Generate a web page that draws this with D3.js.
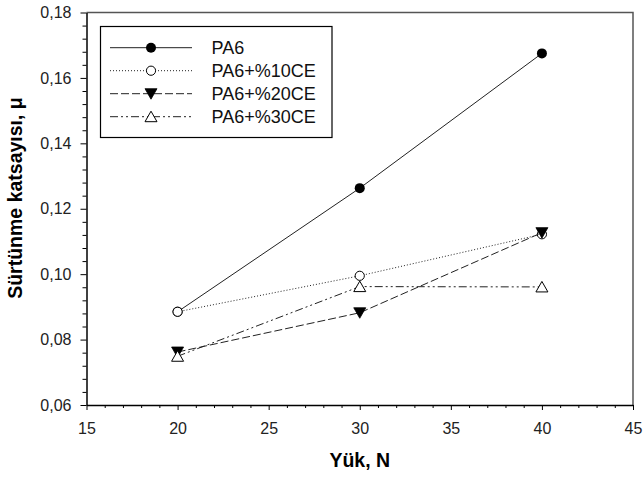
<!DOCTYPE html>
<html>
<head>
<meta charset="utf-8">
<script src="https://cdn.jsdelivr.net/npm/d3@7"></script>
<style>
  html, body { margin: 0; padding: 0; background: #fff; }
  svg { display: block; font-family: "Liberation Sans", Arial, sans-serif; }
</style>
</head>
<body>
<svg id="chart" width="643" height="477"></svg>
<script>
// data
var loads = [20, 30, 40];
var seriesNames = ["PA6", "PA6+%10CE", "PA6+%20CE", "PA6+%30CE"];
var pa6 = [0.0885, 0.1263, 0.1675];
var pa6ce10 = [0.0885, 0.0995, 0.1122];
var pa6ce20 = [0.0762, 0.0882, 0.1127];
var pa6ce30 = [0.0749, 0.0962, 0.0961];
var xTicks = [15, 20, 25, 30, 35, 40, 45];
var yTicks = [0.06, 0.08, 0.10, 0.12, 0.14, 0.16, 0.18];

var allSeries = [pa6, pa6ce10, pa6ce20, pa6ce30];
var dashes = [null, "1,2", "8,3", "8,3,2,3,2,3"];
var shapes = ["dot", "circle", "down", "up"];

var svg = d3.select("#chart");
var plotLeft = 86.5, plotRight = 633, plotTop = 12.5, plotBottom = 405;

var x = d3.scaleLinear().domain([15, 45]).range([plotLeft, plotRight]);
var y = d3.scaleLinear().domain([0.06, 0.18]).range([plotBottom, plotTop]);

var fmt = function(d) { return d3.format(".2f")(d).replace(".", ","); };

// minor ticks first
var xMinor = d3.range(15, 45.01, 1).filter(function(d) { return d % 5 !== 0; });
var yMinor = d3.range(0.06, 0.1801, 0.004).filter(function(d) {
  return Math.abs(Math.round(d * 50) - d * 50) > 0.01;
});

svg.append("g")
  .attr("transform", "translate(0," + plotBottom + ")")
  .call(d3.axisBottom(x).tickValues(xMinor).tickSize(3).tickFormat(""))
  .call(function(g) { g.select(".domain").remove(); });

svg.append("g")
  .attr("transform", "translate(" + plotLeft + ",0)")
  .call(d3.axisLeft(y).tickValues(yMinor).tickSize(4).tickFormat(""))
  .call(function(g) { g.select(".domain").remove(); });

// top and right border (gray)
svg.append("path")
  .attr("d", "M" + plotLeft + "," + plotTop + "H" + plotRight + "V" + plotBottom)
  .attr("fill", "none")
  .attr("stroke", "#555")
  .attr("stroke-width", 1.5);

// major axes
var xAxis = svg.append("g")
  .attr("transform", "translate(0," + plotBottom + ")")
  .call(d3.axisBottom(x).tickValues(xTicks).tickSize(5).tickSizeOuter(0).tickPadding(9));

var yAxis = svg.append("g")
  .attr("transform", "translate(" + plotLeft + ",0)")
  .call(d3.axisLeft(y).tickValues(yTicks).tickSize(6).tickSizeOuter(0).tickPadding(9).tickFormat(fmt));

[xAxis, yAxis].forEach(function(a) {
  a.select(".domain").attr("stroke", "#000").attr("stroke-width", 1.5);
  a.selectAll(".tick line").attr("stroke", "#000");
  a.selectAll("text").attr("font-size", 16).attr("fill", "#222")
    .attr("font-family", "'Liberation Sans', Arial, sans-serif");
});
xAxis.selectAll("text").attr("dy", "0.95em");

// axis titles
svg.append("text")
  .attr("x", (plotLeft + plotRight) / 2)
  .attr("y", 467)
  .attr("text-anchor", "middle")
  .attr("font-size", 19.5)
  .attr("font-weight", "bold")
  .text("Yük, N");

svg.append("text")
  .attr("transform", "translate(22,198) rotate(-90)")
  .attr("text-anchor", "middle")
  .attr("font-size", 19.5)
  .attr("font-weight", "bold")
  .text("Sürtünme katsayısı, μ");

// marker drawing
function drawMarker(g, shape, cx, cy) {
  if (shape === "dot") {
    g.append("circle").attr("cx", cx).attr("cy", cy).attr("r", 5).attr("fill", "#000");
  } else if (shape === "circle") {
    g.append("circle").attr("cx", cx).attr("cy", cy).attr("r", 4.6)
      .attr("fill", "#fff").attr("stroke", "#000").attr("stroke-width", 1);
  } else if (shape === "down") {
    g.append("path")
      .attr("d", "M" + (cx - 6) + "," + (cy - 5) + "L" + (cx + 6) + "," + (cy - 5) + "L" + cx + "," + (cy + 5.5) + "Z")
      .attr("fill", "#000").attr("stroke", "#000").attr("stroke-width", 0.8);
  } else {
    g.append("path")
      .attr("d", "M" + (cx - 6) + "," + (cy + 5) + "L" + (cx + 6) + "," + (cy + 5) + "L" + cx + "," + (cy - 5.5) + "Z")
      .attr("fill", "#fff").attr("stroke", "#000").attr("stroke-width", 1);
  }
}

var line = d3.line()
  .x(function(d, i) { return x(loads[i]); })
  .y(function(d) { return y(d); });

allSeries.forEach(function(vals, s) {
  var g = svg.append("g");
  g.append("path")
    .attr("d", line(vals))
    .attr("fill", "none")
    .attr("stroke", "#222")
    .attr("stroke-width", 1)
    .attr("stroke-dasharray", dashes[s]);
  vals.forEach(function(v, i) {
    drawMarker(g, shapes[s], x(loads[i]), y(v));
  });
});

// legend
var lg = svg.append("g");
lg.append("rect")
  .attr("x", 100.5).attr("y", 26.5)
  .attr("width", 231.5).attr("height", 111)
  .attr("fill", "#fff").attr("stroke", "#000").attr("stroke-width", 1.2);

seriesNames.forEach(function(name, s) {
  var ry = 47.7 + s * 23;
  lg.append("line")
    .attr("x1", 110).attr("x2", 192)
    .attr("y1", ry).attr("y2", ry)
    .attr("stroke", "#222").attr("stroke-width", 1)
    .attr("stroke-dasharray", dashes[s]);
  drawMarker(lg, shapes[s], 151, ry);
  lg.append("text")
    .attr("x", 211.5).attr("y", ry)
    .attr("dy", "0.35em")
    .attr("font-size", 18)
    .attr("fill", "#111")
    .text(name);
});
</script>
</body>
</html>
